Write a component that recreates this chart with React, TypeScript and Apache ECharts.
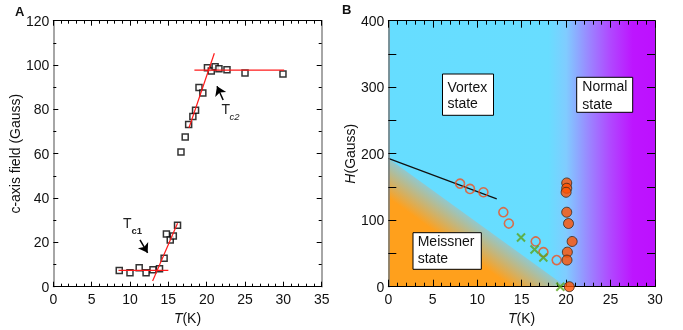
import React, { useEffect, useRef } from 'react';
import * as echarts from 'echarts';

const FONT = '"Liberation Sans", Arial, Helvetica, sans-serif';

// ---------- Panel A data ----------
const tempA = [8.6, 10.0, 11.2, 12.1, 13.0, 13.85, 14.45, 14.75, 15.25, 15.65, 16.2, 16.65, 17.2, 17.65, 18.2, 18.55, 19.0, 19.5, 20.1, 20.6, 21.1, 21.6, 22.65, 25.0, 29.95];
const fieldA = [7.3, 6.3, 8.6, 6.3, 7.7, 8.1, 12.8, 23.8, 21.1, 22.9, 27.7, 60.8, 67.5, 73.2, 76.8, 79.6, 89.9, 87.4, 98.8, 97.3, 99.2, 98.3, 97.9, 96.4, 95.9];
const fitLowFlat = [[8.5, 7.4], [15.0, 7.4]];
const fitLowSteep = [[12.95, 2.6], [16.2, 28.6]];
const fitHighFlat = [[18.4, 97.7], [30.1, 97.7]];
const fitHighSteep = [[17.7, 71.7], [21.0, 105.3]];
const arrowTc1 = [[11.3, 21.1], [12.3, 15.3]];
const arrowTc2 = [[22.15, 84.2], [21.35, 90.4]];
const xTicksA = { min: 0, max: 35, interval: 5 };
const yTicksA = { min: 0, max: 120, interval: 20 };

// ---------- Panel B data ----------
const openT = [8.07, 9.19, 10.7, 12.94, 13.56, 16.58, 17.45, 18.94];
const openH = [155, 147, 142, 112, 95, 68, 52, 40];
const crossT = [14.93, 16.45, 17.44, 19.35];
const crossH = [74, 56, 44, 0];
const filledT = [20.07, 20.07, 20.0, 20.07, 20.27, 20.68, 20.14, 20.1, 20.36];
const filledH = [156, 148, 142, 112, 95, 68, 52, 40, 0];
const hc1Line = [[0, 193], [12.2, 132]];
const meissnerRegion = [[0, 0], [0, 193], [20, 0]];
const phaseRect = [0, 0, 30, 400];
const xTicksB = { min: 0, max: 30, interval: 5 };
const yTicksB = { min: 0, max: 400, interval: 100 };

const textStyle = { color: '#111', fontFamily: FONT };

function xAxis(grid: number, t: any, position: string, labels: boolean, lineColor: string, major: number, minor: number, name = '') {
  return {
    type: 'value', gridIndex: grid, position, min: t.min, max: t.max, interval: t.interval, z: 10,
    axisLine: { show: true, onZero: false, lineStyle: { color: lineColor, width: 1 } },
    axisTick: { show: true, inside: true, length: major, lineStyle: { color: '#000', width: 1 } },
    minorTick: { show: true, splitNumber: 5, length: minor, lineStyle: { color: '#000', width: 1 } },
    splitLine: { show: false }, minorSplitLine: { show: false },
    axisLabel: { show: labels, fontSize: 14, margin: 5, ...textStyle },
    name, nameLocation: 'middle', nameGap: 18,
    nameTextStyle: { fontSize: 14, ...textStyle, rich: { i: { fontSize: 14, fontStyle: 'italic', ...textStyle } } },
  };
}

function yAxis(grid: number, t: any, position: string, labels: boolean, lineColor: string, lineWidth: number, major: number, minor: number, split: number, name = '', gap = 26) {
  return {
    type: 'value', gridIndex: grid, position, min: t.min, max: t.max, interval: t.interval, z: 10,
    axisLine: { show: true, onZero: false, lineStyle: { color: lineColor, width: lineWidth } },
    axisTick: { show: true, inside: true, length: major, lineStyle: { color: '#000', width: 1 } },
    minorTick: { show: true, splitNumber: split, length: minor, lineStyle: { color: '#000', width: 1 } },
    splitLine: { show: false }, minorSplitLine: { show: false },
    axisLabel: { show: labels, fontSize: 14, margin: 4, ...textStyle },
    name, nameLocation: 'middle', nameGap: gap,
    nameTextStyle: { fontSize: 14, ...textStyle, rich: { i: { fontSize: 14, fontStyle: 'italic', ...textStyle } } },
  };
}

const redLine = (data: number[][]) => ({
  type: 'line', xAxisIndex: 0, yAxisIndex: 0, data, symbol: 'none', silent: true, z: 6,
  lineStyle: { color: '#ff1a1a', width: 1.2 },
});

function box(x: number, y: number, w: number, h: number, tx: number, ty: number, text: string, lh: number) {
  return [
    { type: 'rect', z: 50, shape: { x, y, width: w, height: h }, style: { fill: '#fff', stroke: '#000', lineWidth: 1 } },
    { type: 'text', z: 51, x: tx, y: ty, style: { text, fontSize: 14, lineHeight: lh, fontFamily: FONT, fill: '#111', verticalAlign: 'top', align: 'left' } },
  ];
}

export default function App() {
  const ref = useRef<HTMLDivElement>(null);
  useEffect(() => {
    if (!ref.current) return;
    const chart = echarts.init(ref.current, undefined, { renderer: 'svg' });

    const bgStops = [
      { offset: 0, color: '#66DDFF' },
      { offset: 0.6, color: '#68DDFF' },
      { offset: 0.667, color: '#80CCFF' },
      { offset: 0.75, color: '#9A88FF' },
      { offset: 0.833, color: '#B048FF' },
      { offset: 0.917, color: '#BD15FF' },
      { offset: 1, color: '#BD10FF' },
    ];

    const option: any = {
      animation: false,
      grid: [
        { left: 53.3, top: 20.7, width: 268.4, height: 266 },
        { left: 388.3, top: 20.7, width: 266.7, height: 266 },
      ],
      xAxis: [
        xAxis(0, xTicksA, 'bottom', true, '#000', 5, 3, '{i|T}(K)'),
        xAxis(0, xTicksA, 'top', false, '#000', 5, 3),
        xAxis(1, xTicksB, 'bottom', true, '#000', 7, 4, '{i|T}(K)'),
        xAxis(1, xTicksB, 'top', false, '#000', 7, 4),
      ],
      yAxis: [
        yAxis(0, yTicksA, 'left', true, '#888', 1.5, 5, 3, 2, 'c-axis field (Gauss)', 24),
        yAxis(0, yTicksA, 'right', false, '#888', 1.5, 5, 3, 2),
        yAxis(1, yTicksB, 'left', true, '#777', 1.5, 8, 8, 2, '{i|H}(Gauss)', 27),
        yAxis(1, yTicksB, 'right', false, '#222', 1, 8, 8, 2),
      ],
      series: [
        // Panel A
        redLine(fitLowFlat),
        redLine(fitLowSteep),
        redLine(fitHighFlat),
        redLine(fitHighSteep),
        {
          type: 'scatter', xAxisIndex: 0, yAxisIndex: 0, z: 5, silent: true,
          data: tempA.map((t, i) => [t, fieldA[i]]),
          symbol: 'rect', symbolSize: 6,
          itemStyle: { color: '#fff', borderColor: '#000', borderWidth: 1.5 },
          markLine: {
            silent: true, symbol: ['none', 'arrow'], symbolSize: 9,
            label: { show: false },
            lineStyle: { color: '#000', width: 1.5, type: 'solid' },
            data: [
              [{ coord: arrowTc1[0] }, { coord: arrowTc1[1] }],
              [{ coord: arrowTc2[0] }, { coord: arrowTc2[1] }],
            ],
          },
        },
        // Panel B background
        {
          type: 'custom', xAxisIndex: 2, yAxisIndex: 2, z: 0, silent: true,
          data: [phaseRect],
          renderItem: (params: any, api: any) => {
            const p0 = api.coord([api.value(0), api.value(3)]);
            const p1 = api.coord([api.value(2), api.value(1)]);
            return {
              type: 'rect',
              shape: { x: p0[0], y: p0[1], width: p1[0] - p0[0], height: p1[1] - p0[1] },
              style: { fill: new echarts.graphic.LinearGradient(0, 0, 1, 0, bgStops) },
            };
          },
        },
        {
          type: 'custom', xAxisIndex: 2, yAxisIndex: 2, z: 1, silent: true,
          data: [meissnerRegion[0]],
          renderItem: (params: any, api: any) => {
            const pts = meissnerRegion.map((p) => api.coord(p));
            const [pC, pA, pB] = pts;
            const dx = pB[0] - pA[0], dy = pB[1] - pA[1];
            const len = Math.hypot(dx, dy);
            let nx = -dy / len, ny = dx / len;
            if ((pC[0] - pA[0]) * nx + (pC[1] - pA[1]) * ny < 0) { nx = -nx; ny = -ny; }
            const w = 32;
            const grad = new echarts.graphic.LinearGradient(
              pA[0], pA[1], pA[0] + nx * w, pA[1] + ny * w,
              [
                { offset: 0, color: 'rgb(145,200,205)' },
                { offset: 1, color: 'rgb(255,160,28)' },
              ],
              true,
            );
            return { type: 'polygon', shape: { points: pts }, style: { fill: grad } };
          },
        },
        {
          type: 'line', xAxisIndex: 2, yAxisIndex: 2, z: 6, silent: true, data: hc1Line, symbol: 'none',
          lineStyle: { color: '#111', width: 1.2 },
        },
        {
          type: 'scatter', xAxisIndex: 2, yAxisIndex: 2, z: 20, silent: true,
          data: openT.map((t, i) => [t, openH[i]]),
          symbol: 'circle', symbolSize: 9,
          itemStyle: { color: 'rgba(0,0,0,0)', borderColor: '#F2501E', borderWidth: 1.6 },
        },
        {
          type: 'scatter', xAxisIndex: 2, yAxisIndex: 2, z: 20, silent: true,
          data: crossT.map((t, i) => [t, crossH[i]]),
          symbol: 'path://M0,0L10,10M10,0L0,10', symbolSize: 8,
          itemStyle: { color: 'none', borderColor: '#5AA51E', borderWidth: 2 },
        },
        {
          type: 'scatter', xAxisIndex: 2, yAxisIndex: 2, z: 21, silent: true,
          data: filledT.map((t, i) => [t, filledH[i]]),
          symbol: 'circle', symbolSize: 10,
          itemStyle: { color: '#FF5200', borderColor: '#3a2418', borderWidth: 1 },
        },
      ],
      graphic: [
        { type: 'text', x: 15, y: 11, style: { text: 'A', fontSize: 13, fontWeight: 'bold', fontFamily: FONT, fill: '#111', verticalAlign: 'middle' } },
        { type: 'text', x: 342, y: 9.5, style: { text: 'B', fontSize: 13, fontWeight: 'bold', fontFamily: FONT, fill: '#111', verticalAlign: 'middle' } },
        { type: 'text', x: 123, y: 222.5, style: { text: 'T', fontSize: 14, fontFamily: FONT, fill: '#222', verticalAlign: 'middle' } },
        { type: 'text', x: 131.5, y: 230, style: { text: 'c1', fontSize: 9.5, fontWeight: 'bold', fontFamily: FONT, fill: '#222', verticalAlign: 'middle' } },
        { type: 'text', x: 221.5, y: 109, style: { text: 'T', fontSize: 14, fontFamily: FONT, fill: '#222', verticalAlign: 'middle' } },
        { type: 'text', x: 229.5, y: 116.2, style: { text: 'c2', fontSize: 9.5, fontStyle: 'italic', fontFamily: FONT, fill: '#222', verticalAlign: 'middle' } },
        ...box(442.5, 74, 51, 41.3, 447.5, 78.5, 'Vortex\nstate', 16.4),
        ...box(576.7, 77.3, 56, 35, 582.3, 77.8, 'Normal\nstate', 17.2),
        ...box(413, 232.7, 68.3, 36.6, 417.7, 232.7, 'Meissner\nstate', 16.7),
      ],
    };
    chart.setOption(option);
    return () => chart.dispose();
  }, []);
  return <div ref={ref} style={{ position: 'fixed', left: 0, top: 0, width: 683, height: 330 }} />;
}
